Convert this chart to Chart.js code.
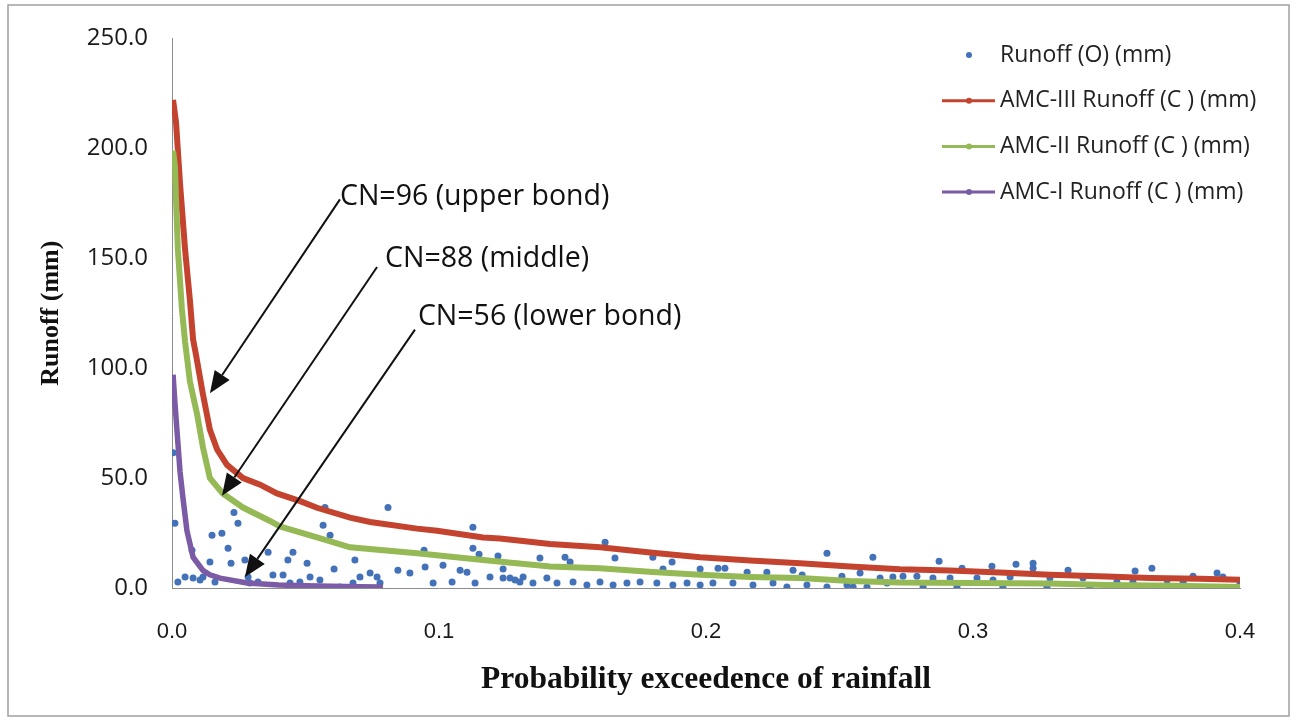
<!DOCTYPE html>
<html>
<head>
<meta charset="utf-8">
<title>Runoff vs probability exceedence</title>
<script src="https://cdn.jsdelivr.net/npm/chart.js@4/dist/chart.umd.min.js"></script>
<style>
  html, body { margin: 0; padding: 0; background: #fff; }
  #wrap { width: 1297px; height: 721px; }
</style>
</head>
<body>
<div id="wrap"><canvas id="runoffChart" width="1297" height="721"></canvas></div>
<script>
// --- data ---
const amc3X = [0.0004,0.0015,0.0022,0.003,0.0049,0.0067,0.0079,0.009,0.0116,0.0142,0.0169,0.0206,0.0266,0.033,0.0393,0.048,0.0543,0.0667,0.0742,0.0918,0.0993,0.1165,0.1228,0.134,0.1416,0.1603,0.18,0.1978,0.2165,0.2352,0.2539,0.2727,0.2914,0.31,0.3288,0.35,0.3663,0.385,0.4];
const amc3Y = [222,212,199,184,154,131,113,106,88,72,63,56,50,47,43,39.5,36.5,32,30,27,26,23,22.5,21,20,18.5,16,14,12.5,11.3,9.8,8.5,8,7,6,5.2,4.6,4.2,3.8];

const amc2X = [0.0004,0.0011,0.0015,0.0022,0.0037,0.0049,0.0067,0.0094,0.0116,0.0142,0.019,0.0266,0.0367,0.0404,0.0543,0.0667,0.0918,0.1165,0.1416,0.1603,0.18,0.1978,0.2165,0.2352,0.2539,0.2727,0.30,0.3288,0.35,0.375,0.4];
const amc2Y = [199,192,177,154,127,112,94,79,64,50,43,36.6,30.5,28,23,18.5,15.8,12.7,9.8,9,7.3,6,5,4.5,3.2,2.5,2.3,2.1,1.4,1,0.5];

const amc1X = [0.0004,0.001,0.0019,0.003,0.0041,0.0056,0.0079,0.0116,0.0142,0.018,0.0281,0.04,0.05,0.06,0.07,0.079];
const amc1Y = [97,86,71,53,41,26,14,8,6,4.5,2.3,1.4,1,0.8,0.6,0.5];

// observed runoff (scatter)
const obsX = [0.0004,0.0011,0.0075,0.0150,0.0187,0.0210,0.0247,0.0232,0.0142,0.0221,
  0.0273,0.0049,0.0079,0.0116,0.0022,0.0161,0.0285,0.0322,0.0360,0.0434,
  0.0453,0.0506,0.0566,0.0592,0.0573,0.0607,0.0685,0.0378,0.0416,0.0479,
  0.0517,0.0554,0.0678,0.0704,0.0742,0.0768,0.0809,0.0846,0.0891,0.0944,
  0.0948,0.0978,0.1015,0.1049,0.1079,0.1105,0.1127,0.1127,0.1135,0.1150,
  0.1191,0.1221,0.1240,0.1285,0.1315,0.1378,0.1240,0.1266,0.1303,0.1352,
  0.1404,0.1442,0.1502,0.1554,0.1603,0.1652,0.1704,0.1753,0.1816,0.1876,
  0.1929,0.1978,0.2026,0.2101,0.2176,0.2251,0.2303,0.2378,0.2453,0.2528,
  0.2603,0.2678,0.1622,0.1472,0.1491,0.1659,0.1801,0.1873,0.1839,0.1978,
  0.2045,0.2071,0.2154,0.2228,0.2326,0.2360,0.2453,0.2625,0.2509,0.2577,
  0.2652,0.2700,0.2873,0.3071,0.3161,0.3225,0.3225,0.3356,0.3607,0.3670,
  0.3824,0.3914,0.2959,0.2738,0.2790,0.2850,0.2914,0.3015,0.3075,0.3139,
  0.3288,0.3412,0.3539,0.3599,0.3727,0.3787,0.2551,0.2813,0.2940,0.3112,
  0.3277,0.3438,0.3936,0.4000,0.0105,0.0292,0.0442,0.0629,0.0779];
const obsY = [61.5,29.4,17.2,24.0,24.9,18.1,29.4,34.4,11.8,11.3,
  12.7,5.0,4.5,5.0,2.7,2.7,5.0,2.7,16.3,12.7,
  16.3,11.3,28.5,24.0,36.6,8.6,12.7,5.9,5.9,2.7,
  5.0,3.6,2.3,5.0,6.8,5.0,36.6,8.1,6.8,17.2,
  9.5,2.3,10.4,2.7,8.1,7.2,27.6,18.1,2.3,15.4,
  5.0,14.5,4.5,3.6,5.0,13.6,8.6,4.5,2.7,2.3,
  4.5,2.3,2.7,1.4,2.7,1.4,2.3,2.7,2.3,1.4,
  2.3,1.4,2.3,2.3,1.4,2.3,0.5,1.4,0.5,1.4,
  0.5,2.3,20.8,14.0,11.8,13.6,14.0,11.8,8.6,8.6,
  9.0,9.0,7.2,7.2,8.1,5.9,15.8,14.0,5.4,6.8,
  4.5,5.0,12.2,9.9,10.8,11.3,9.0,8.1,7.7,9.0,
  5.4,6.8,9.0,5.4,5.4,4.5,4.5,4.5,3.6,5.0,
  4.5,4.5,2.7,2.7,3.6,2.7,0.5,0.5,0.5,0.5,
  0.5,0.5,5.0,1.8,3.6,2.3,2.3,0.5,2.3];

// annotations (data coordinates)
const annoText  = ['CN=96 (upper bond)', 'CN=88 (middle)', 'CN=56 (lower bond)'];
const annoTextX = [0.0629, 0.0798, 0.0921];
const annoTextY = [174.1, 146.0, 119.8];
const arrowFromX = [0.0629, 0.0768, 0.0910];
const arrowFromY = [176.8, 146.0, 117.5];
const arrowToX   = [0.0142, 0.0187, 0.0273];
const arrowToY   = [88.6, 42.0, 5.0];

const BLUE = '#4472b8', RED = '#c4432e', GREEN = '#95b954', PURPLE = '#7b5aa6';

function zip(xs, ys) {
    return xs.map((x, i) => ({ x: x, y: ys[i] }));
}

// frame, arrows and the in-plot legend
const extrasPlugin = {
    id: 'extras',
    beforeDraw(chart) {
        const ctx = chart.ctx;
        ctx.save();
        ctx.fillStyle = '#fff';
        ctx.fillRect(0, 0, chart.width, chart.height);
        ctx.strokeStyle = '#a0a0a0';
        ctx.lineWidth = 1.5;
        ctx.strokeRect(8, 5, chart.width - 16, chart.height - 10);
        ctx.restore();
    },
    afterDatasetsDraw(chart) {
        const ctx = chart.ctx;
        const xs = chart.scales.x, ys = chart.scales.y;
        ctx.save();
        ctx.strokeStyle = '#111';
        ctx.fillStyle = '#111';
        ctx.lineWidth = 2;
        for (let i = 0; i < annoText.length; i++) {
            const x0 = xs.getPixelForValue(arrowFromX[i]), y0 = ys.getPixelForValue(arrowFromY[i]);
            const x1 = xs.getPixelForValue(arrowToX[i]),   y1 = ys.getPixelForValue(arrowToY[i]);
            const ang = Math.atan2(y1 - y0, x1 - x0);
            const headLen = 22, headW = 9;
            const bx = x1 - headLen * Math.cos(ang), by = y1 - headLen * Math.sin(ang);
            ctx.beginPath();
            ctx.moveTo(x0, y0);
            ctx.lineTo(bx, by);
            ctx.stroke();
            ctx.beginPath();
            ctx.moveTo(x1, y1);
            ctx.lineTo(bx + headW * Math.sin(ang), by - headW * Math.cos(ang));
            ctx.lineTo(bx - headW * Math.sin(ang), by + headW * Math.cos(ang));
            ctx.closePath();
            ctx.fill();

            ctx.font = '28.5px "Open Sans", "Noto Sans", sans-serif';
            ctx.textAlign = 'left';
            ctx.textBaseline = 'alphabetic';
            ctx.fillText(annoText[i], xs.getPixelForValue(annoTextX[i]), ys.getPixelForValue(annoTextY[i]));
        }
        ctx.restore();
    },
    afterDraw(chart) {
        const ctx = chart.ctx;
        const lx = 942, ly = 55, gap = 45.7;
        ctx.save();
        chart.data.datasets.forEach((ds, i) => {
            const y = ly + i * gap;
            if (ds.showLine) {
                ctx.strokeStyle = ds.borderColor;
                ctx.lineWidth = 3;
                ctx.beginPath();
                ctx.moveTo(lx, y);
                ctx.lineTo(lx + 53, y);
                ctx.stroke();
            }
            ctx.fillStyle = ds.backgroundColor;
            ctx.beginPath();
            ctx.arc(lx + 27, y, 3, 0, Math.PI * 2);
            ctx.fill();
            ctx.fillStyle = '#222';
            ctx.font = '23px "Open Sans", "Noto Sans", sans-serif';
            ctx.textAlign = 'left';
            ctx.textBaseline = 'middle';
            ctx.fillText(ds.label, lx + 58, y);
        });
        ctx.restore();
    }
};

const ctx = document.getElementById('runoffChart').getContext('2d');
new Chart(ctx, {
    type: 'scatter',
    data: {
        datasets: [
            {
                label: 'Runoff (O) (mm)',
                data: zip(obsX, obsY),
                showLine: false,
                backgroundColor: BLUE,
                borderColor: BLUE,
                borderWidth: 0,
                pointRadius: 3.5,
                order: 4
            },
            {
                label: 'AMC-III Runoff (C ) (mm)',
                data: zip(amc3X, amc3Y),
                showLine: true,
                borderColor: RED,
                backgroundColor: RED,
                borderWidth: 6,
                pointRadius: 0,
                order: 3
            },
            {
                label: 'AMC-II Runoff (C ) (mm)',
                data: zip(amc2X, amc2Y),
                showLine: true,
                borderColor: GREEN,
                backgroundColor: GREEN,
                borderWidth: 6,
                pointRadius: 0,
                order: 2
            },
            {
                label: 'AMC-I Runoff (C ) (mm)',
                data: zip(amc1X, amc1Y),
                showLine: true,
                borderColor: PURPLE,
                backgroundColor: PURPLE,
                borderWidth: 5.5,
                pointRadius: 0,
                order: 1
            }
        ]
    },
    options: {
        responsive: false,
        animation: false,
        devicePixelRatio: 1,
        layout: { padding: { left: 0, right: 57, top: 35, bottom: 0 } },
        plugins: {
            legend: { display: false },
            tooltip: { enabled: false }
        },
        scales: {
            x: {
                type: 'linear',
                min: 0,
                max: 0.4,
                grid: { display: false, drawTicks: false },
                border: { display: true, color: '#8c8c8c', width: 1 },
                ticks: {
                    stepSize: 0.1,
                    padding: 31,
                    color: '#1a1a1a',
                    font: { family: '"Liberation Sans Narrow", "Liberation Sans", sans-serif', size: 22 },
                    callback: v => v.toFixed(1)
                },
                title: {
                    display: true,
                    text: 'Probability exceedence of rainfall',
                    color: '#111',
                    font: { family: '"Liberation Serif", serif', size: 31.5, weight: 'bold' },
                    padding: { top: 0, bottom: 22 }
                },
                afterFit(scale) { scale.height = 133; }
            },
            y: {
                min: 0,
                max: 250,
                grid: { display: false, drawTicks: false },
                border: { display: true, color: '#8c8c8c', width: 1 },
                ticks: {
                    stepSize: 50,
                    padding: 24,
                    color: '#1a1a1a',
                    font: { family: '"Open Sans", "Noto Sans", sans-serif', size: 24 },
                    callback: v => v.toFixed(1)
                },
                title: {
                    display: true,
                    text: 'Runoff (mm)',
                    color: '#111',
                    font: { family: '"Liberation Serif", serif', size: 26, weight: 'bold' },
                    padding: { top: 36, bottom: 0 }
                },
                afterFit(scale) { scale.width = 172; }
            }
        }
    },
    plugins: [extrasPlugin]
});
</script>
</body>
</html>
